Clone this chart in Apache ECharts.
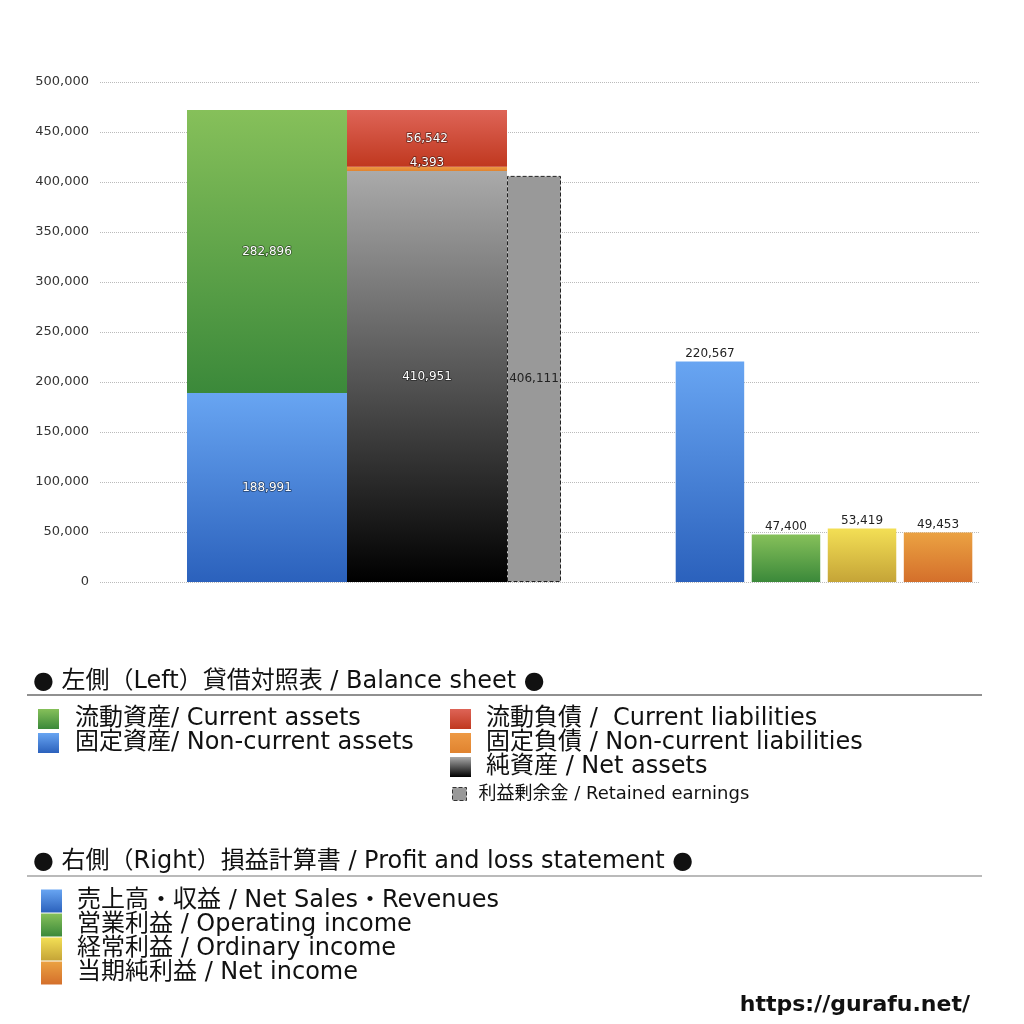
<!DOCTYPE html>
<html>
<head>
<meta charset="utf-8">
<style>html,body{margin:0;padding:0;background:#fff;}#chart{width:1024px;height:1024px;}</style>
<script src="https://cdn.jsdelivr.net/npm/echarts@6/dist/echarts.min.js"></script>
</head>
<body>
<div id="chart"></div>
<script>
// ---- data ----
const bsCategories = ['貸借対照表'];
const plCategories = ['損益計算書'];
const nonCurrentAssets = [188991];
const currentAssets = [282896];
const netAssets = [410951];
const nonCurrentLiabilities = [4393];
const currentLiabilities = [56542];
const retainedEarnings = [406111];
const netSales = [220567];
const operatingIncome = [47400];
const ordinaryIncome = [53419];
const netIncome = [49453];
const yMin = 0, yMax = 500000, yInterval = 50000;

const names = {
  ca: '流動資産/ Current assets',
  nca: '固定資産/ Non-current assets',
  cl: '流動負債 /  Current liabilities',
  ncl: '固定負債 / Non-current liabilities',
  na: '純資産 / Net assets',
  re: '利益剰余金 / Retained earnings',
  sales: '売上高・収益 / Net Sales・Revenues',
  op: '営業利益 / Operating income',
  ord: '経常利益 / Ordinary income',
  ni: '当期純利益 / Net income'
};
const titleBS = '● 左側（Left）貸借対照表 / Balance sheet ●';
const titlePL = '● 右側（Right）損益計算書 / Profit and loss statement ●';
const siteUrl = 'https://gurafu.net/';

const FONT = "'DejaVu Sans', 'Noto Sans CJK JP', sans-serif";
function grad(top, bottom) {
  return {type: 'linear', x: 0, y: 0, x2: 0, y2: 1,
    colorStops: [{offset: 0, color: top}, {offset: 1, color: bottom}]};
}
const fmt = v => Number(v).toLocaleString('en-US');
const whiteLabel = {
  show: true, position: 'inside', color: '#fff', fontSize: 12, fontFamily: FONT,
  textBorderColor: 'rgba(0,0,0,0.5)', textBorderWidth: 1.5,
  formatter: p => fmt(p.value)
};
const topLabel = {
  show: true, position: 'top', distance: 2, color: '#222', fontSize: 12, fontFamily: FONT,
  formatter: p => fmt(p.value)
};
const legendText = (pad) => ({fontSize: 24, color: '#111', lineHeight: 24, padding: [0, 0, 0, pad], fontFamily: FONT});

const chart = echarts.init(document.getElementById('chart'));
chart.setOption({
  backgroundColor: '#fff',
  animation: false,
  textStyle: {fontFamily: FONT},
  grid: [
    {left: 100, right: 44, top: 82, bottom: 442},
    {left: 100, width: 548, top: 82, bottom: 442},
    {left: 668, right: 44, top: 82, bottom: 442}
  ],
  xAxis: [
    {gridIndex: 0, type: 'category', data: [''], show: false},
    {gridIndex: 1, type: 'category', data: bsCategories, show: false},
    {gridIndex: 2, type: 'category', data: plCategories, show: false}
  ],
  yAxis: [
    {gridIndex: 0, type: 'value', min: yMin, max: yMax, interval: yInterval,
      axisLine: {show: false}, axisTick: {show: false},
      axisLabel: {color: '#333', fontSize: 13, margin: 11, padding: [3, 0, 0, 0], fontFamily: FONT, formatter: v => fmt(v)},
      splitLine: {lineStyle: {type: 'dotted', color: '#bbb', width: 1}}},
    {gridIndex: 1, type: 'value', min: yMin, max: yMax, show: false, splitLine: {show: false}},
    {gridIndex: 2, type: 'value', min: yMin, max: yMax, show: false, splitLine: {show: false}}
  ],
  legend: [
    {left: 38, top: 707, padding: 0, orient: 'vertical', selectedMode: false, icon: 'rect',
      itemWidth: 21, itemHeight: 20, itemGap: 0, textStyle: legendText(11),
      data: [names.ca, names.nca]},
    {left: 450, top: 707, padding: 0, orient: 'vertical', selectedMode: false, icon: 'rect',
      itemWidth: 21, itemHeight: 20, itemGap: 0, textStyle: legendText(10),
      data: [names.cl, names.ncl, names.na]},
    {left: 452, top: 784, padding: 0, orient: 'vertical', selectedMode: false, icon: 'rect',
      itemWidth: 14, itemHeight: 13, itemGap: 0,
      textStyle: {fontSize: 18, color: '#111', lineHeight: 20, padding: [0, 0, 0, 7], fontFamily: FONT},
      itemStyle: {borderColor: '#333', borderWidth: 1, borderType: 'dashed'},
      data: [names.re]},
    {left: 41, top: 889, padding: 0, orient: 'vertical', selectedMode: false, icon: 'rect',
      itemWidth: 21, itemHeight: 23, itemGap: 0, textStyle: legendText(10),
      data: [names.sales, names.op, names.ord, names.ni]}
  ],
  graphic: [
    {type: 'text', style: {x: 33, y: 682, verticalAlign: 'middle', text: titleBS, font: '24px ' + FONT, fill: '#111'}},
    {type: 'line', shape: {x1: 27, y1: 695, x2: 982, y2: 695}, style: {stroke: '#222', lineWidth: 1.2}},
    {type: 'text', style: {x: 33, y: 862, verticalAlign: 'middle', text: titlePL, font: '24px ' + FONT, fill: '#111'}},
    {type: 'line', shape: {x1: 27, y1: 876, x2: 982, y2: 876}, style: {stroke: '#777', lineWidth: 1.2}},
    {type: 'text', style: {x: 970, y: 1005, align: 'right', verticalAlign: 'middle', text: siteUrl, font: 'bold 22px ' + FONT, fill: '#111'}}
  ],
  series: [
    {name: names.nca, type: 'bar', xAxisIndex: 1, yAxisIndex: 1, stack: 'assets', barWidth: 160, barGap: '0%',
      data: nonCurrentAssets, itemStyle: {color: grad('#68a5f2', '#2b61bc')}, label: whiteLabel},
    {name: names.ca, type: 'bar', xAxisIndex: 1, yAxisIndex: 1, stack: 'assets', barWidth: 160,
      data: currentAssets, itemStyle: {color: grad('#86c05a', '#3b893a')}, label: whiteLabel},
    {name: names.na, type: 'bar', xAxisIndex: 1, yAxisIndex: 1, stack: 'liab', barWidth: 160,
      data: netAssets, itemStyle: {color: grad('#aaaaaa', '#000000')}, label: whiteLabel},
    {name: names.ncl, type: 'bar', xAxisIndex: 1, yAxisIndex: 1, stack: 'liab', barWidth: 160,
      data: nonCurrentLiabilities, itemStyle: {color: grad('#ee9a45', '#e0832f')},
      label: Object.assign({}, whiteLabel, {offset: [0, -6]})},
    {name: names.cl, type: 'bar', xAxisIndex: 1, yAxisIndex: 1, stack: 'liab', barWidth: 160,
      data: currentLiabilities, itemStyle: {color: grad('#de6457', '#c0381f')}, label: whiteLabel},
    {name: names.re, type: 'bar', xAxisIndex: 1, yAxisIndex: 1, barWidth: 54, barGap: '0%',
      data: retainedEarnings,
      itemStyle: {color: '#999999', borderColor: '#222', borderWidth: 1, borderType: 'dashed'},
      label: {show: true, position: 'inside', color: '#222', fontSize: 12, fontFamily: FONT, formatter: p => fmt(p.value)}},
    {name: names.sales, type: 'bar', xAxisIndex: 2, yAxisIndex: 2, barWidth: 68.5, barGap: '11%',
      data: netSales, itemStyle: {color: grad('#68a5f2', '#2b61bc')}, label: topLabel},
    {name: names.op, type: 'bar', xAxisIndex: 2, yAxisIndex: 2, barWidth: 68.5, barGap: '11%',
      data: operatingIncome, itemStyle: {color: grad('#86c05a', '#3b893a')}, label: topLabel},
    {name: names.ord, type: 'bar', xAxisIndex: 2, yAxisIndex: 2, barWidth: 68.5, barGap: '11%',
      data: ordinaryIncome, itemStyle: {color: grad('#f3df55', '#c5a437')}, label: topLabel},
    {name: names.ni, type: 'bar', xAxisIndex: 2, yAxisIndex: 2, barWidth: 68.5, barGap: '11%',
      data: netIncome, itemStyle: {color: grad('#eba242', '#d46f2b')}, label: topLabel}
  ]
});
</script>
</body>
</html>
